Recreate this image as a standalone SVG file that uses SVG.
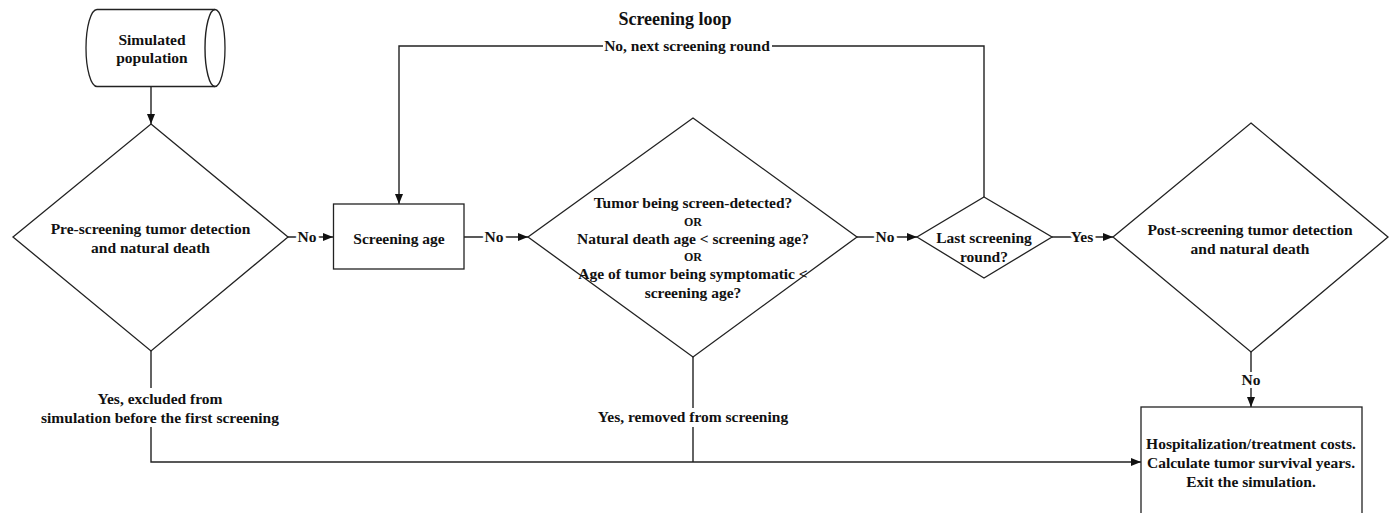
<svg xmlns="http://www.w3.org/2000/svg" width="1392" height="513" viewBox="0 0 1392 513">
<style>
.s{fill:#fff;stroke:#222;stroke-width:1.3}
.c{fill:none;stroke:#222;stroke-width:1.4}
.t{font-family:"Liberation Serif","Times New Roman",serif;font-weight:bold;font-size:15.5px;text-anchor:middle;fill:#111}
.sm{font-size:12px}
.h{paint-order:stroke;stroke:#fff;stroke-width:6px;stroke-linejoin:round}
.bg{fill:#fff;stroke:none}
</style>
<defs>
<marker id="ar" markerUnits="userSpaceOnUse" markerWidth="10" markerHeight="8" refX="10" refY="4" orient="auto">
<path d="M0,0 L10,4 L0,8 z" fill="#111"/>
</marker>
</defs>
<rect width="1392" height="513" fill="#fff"/>
<text class="t" x="675" y="25" style="font-size:18px">Screening loop</text>
<g id="connectors">
<path class="c" d="M151,87 V124" marker-end="url(#ar)"/>
<path class="c" d="M288,237 H333" marker-end="url(#ar)"/>
<path class="c" d="M464,237 H528" marker-end="url(#ar)"/>
<path class="c" d="M857,237 H917" marker-end="url(#ar)"/>
<path class="c" d="M1052,237 H1113" marker-end="url(#ar)"/>
<path class="c" d="M984,197 V46 H399 V204" marker-end="url(#ar)"/>
<path class="c" d="M151,351 V462 H1141" marker-end="url(#ar)"/>
<path class="c" d="M693,357 V462"/>
<path class="c" d="M1251,352 V407" marker-end="url(#ar)"/>
<rect class="bg" x="603" y="38" width="169" height="17"/>
<rect class="bg" x="96" y="388" width="128" height="20"/>
<rect class="bg" x="40" y="407" width="240" height="20"/>
<rect class="bg" x="597" y="408" width="193" height="19"/>
<text class="t h" x="307" y="242">No</text>
<text class="t h" x="494" y="242">No</text>
<text class="t h" x="885" y="242">No</text>
<text class="t h" x="1082" y="242">Yes</text>
<text class="t" x="687" y="51">No, next screening round</text>
<text class="t" x="160" y="404">Yes, excluded from</text>
<text class="t" x="160" y="423">simulation before the first screening</text>
<text class="t" x="693" y="422">Yes, removed from screening</text>
<text class="t h" x="1251" y="385">No</text>
</g>
<g id="simulated-population">
<path class="s" d="M97,9.5 H215 A10,38.5 0 0 1 215,86.5 H97 A11,38.5 0 0 1 97,9.5 Z"/>
<path class="c" d="M215,9.5 A10,38.5 0 0 0 215,86.5"/>
<text class="t" x="152" y="45">Simulated</text>
<text class="t" x="152" y="63">population</text>
</g>
<g id="pre-screening">
<polygon class="s" points="151,124 288,237 151,351 13,237"/>
<text class="t" x="150.5" y="234">Pre-screening tumor detection</text>
<text class="t" x="150.5" y="253">and natural death</text>
</g>
<g id="screening-age">
<rect class="s" x="333.5" y="204" width="130.5" height="65"/>
<text class="t" x="399" y="244">Screening age</text>
</g>
<g id="screen-check">
<polygon class="s" points="693,118 857,237 693,357 528,237"/>
<text class="t" x="693" y="208">Tumor being screen-detected?</text>
<text class="t sm" x="693" y="226">OR</text>
<text class="t" x="693" y="244">Natural death age &lt; screening age?</text>
<text class="t sm" x="693" y="261">OR</text>
<text class="t" x="693" y="279">Age of tumor being symptomatic &lt;</text>
<text class="t" x="693" y="298">screening age?</text>
</g>
<g id="last-round">
<polygon class="s" points="984,197 1052,237 984,278 917,237"/>
<text class="t" x="984" y="243">Last screening</text>
<text class="t" x="984" y="262">round?</text>
</g>
<g id="post-screening">
<polygon class="s" points="1251,123 1388,237 1251,352 1113,237"/>
<text class="t" x="1250" y="235">Post-screening tumor detection</text>
<text class="t" x="1250" y="254">and natural death</text>
</g>
<g id="exit">
<rect class="s" x="1141" y="407" width="221" height="115"/>
<text class="t" x="1251" y="449">Hospitalization/treatment costs.</text>
<text class="t" x="1251" y="468">Calculate tumor survival years.</text>
<text class="t" x="1251" y="487">Exit the simulation.</text>
</g>
</svg>
